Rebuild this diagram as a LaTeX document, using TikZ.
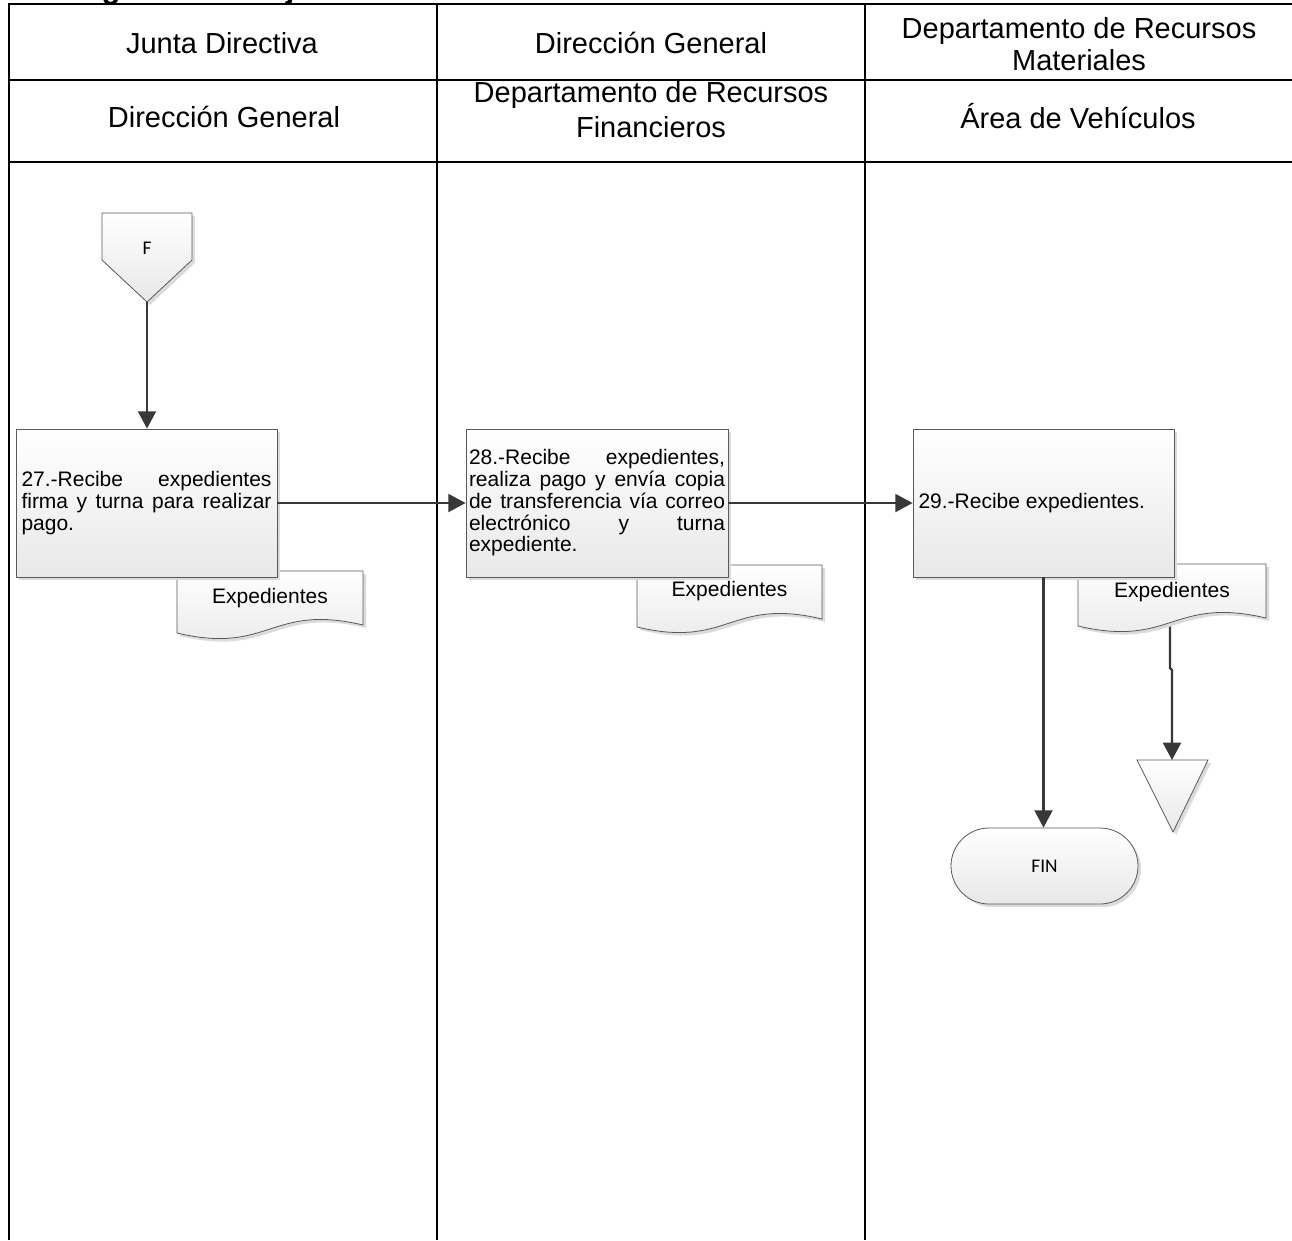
\documentclass[tikz,border=0pt]{standalone}
\usepackage{fontspec}
\setmainfont{Liberation Sans}
\newfontfamily\carlito{Carlito}
\usetikzlibrary{arrows.meta,shadows}

\tikzset{
  frame/.style={line width=1.5pt, draw=black},
  hdr/.style={anchor=base, inner sep=0pt, font=\fontsize{21.75}{26}\selectfont},
  shp/.style={draw=black!65, line width=0.6pt, top color=white, bottom color=black!9,
    drop shadow={shadow xshift=2.25pt, shadow yshift=-2.25pt, fill=black!14, opacity=1}},
  act/.style={shp, rectangle, minimum height=111pt, align=justify, inner ysep=0pt,
    font=\fontsize{15.75}{16.3}\selectfont,
    execute at begin node={\tolerance=10000\relax\hyphenpenalty=10000\relax}},
  doclabel/.style={inner sep=0pt, font=\fontsize{15.75}{16.3}\selectfont},
  small/.style={inner sep=0pt, font=\carlito\fontsize{14.5}{16}\selectfont},
  flow/.style={draw=black!78, line width=1.6pt, -{Triangle[length=13pt,width=13.5pt]}},
}

% document symbol: left x, top y, width
\newcommand\docsymbol[3]{%
  \path[shp] (#1,#2) -- ({#1+#3},#2) -- ({#1+#3},{#2+54})
    .. controls ({#1+0.5*#3},{#2+32}) and ({#1+0.5*#3},{#2+84}) .. (#1,{#2+62}) -- cycle;}

\begin{document}
\begin{tikzpicture}[x=0.75pt, y=-0.75pt]
\useasboundingbox (0,0) rectangle (1292,1240);

% title strip
\begin{scope}
  \clip (0,0) rectangle (1292,4);
  \node[anchor=base west, inner sep=0pt, font=\bfseries\fontsize{23.25}{26}\selectfont] (title) at (53,-2) {Diagrama de flujo};
\end{scope}

% lanes
\draw[frame] (9,1240) -- (9,4) -- (1292,4);
\draw[frame] (9,80) -- (1292,80);
\draw[frame] (9,162) -- (1292,162);
\draw[frame] (437,4) -- (437,1240);
\draw[frame] (865,4) -- (865,1240);

% lane headers
\node[hdr] (h11) at (222,53) {Junta Directiva};
\node[hdr] (h12) at (651,53) {Dirección General};
\node[hdr] (h13a) at (1079,38) {Departamento de Recursos};
\node[hdr] (h13b) at (1079,70) {Materiales};
\node[hdr] (h21) at (224,127) {Dirección General};
\node[hdr] (h22a) at (651,102) {Departamento de Recursos};
\node[hdr] (h22b) at (651,137) {Financieros};
\node[hdr] (h23) at (1078,128) {Área de Vehículos};

% off-page connector F
\path[shp] (102,213) -- (192,213) -- (192,260) -- (147,302) -- (102,260) -- cycle;
\node[small] (F) at (147,248) {F};
\coordinate (Ftip) at (147,302);

% documents
\docsymbol{177}{571}{186}
\node[doclabel] (doc1) at (270,598) {Expedientes};
\docsymbol{637}{565}{185}
\node[doclabel] (doc2) at (729.5,591) {Expedientes};

% connector from the third document to the merge symbol
\coordinate (d3b) at (1170,625);
\path[shp] (1137,760) -- (1208,760) -- (1173,832) -- cycle;
\coordinate (mrg) at (1172,760);
\draw[flow] (d3b) -- ++(0,43) -- ++(2,2) -- (mrg);
\docsymbol{1078}{564}{188}
\node[doclabel] (doc3) at (1172,592) {Expedientes};

% activities
\node[act, text width=187.5pt, inner xsep=4.125pt] (b27) at (146.5,503)
  {27.-Recibe expedientes\linebreak firma y turna para realizar\linebreak pago.};
\node[act, text width=192pt, inner xsep=2.25pt] (b28) at (597,503)
  {28.-Recibe expedientes,\linebreak realiza pago y envía copia\linebreak de transferencia vía correo\linebreak electrónico y turna\linebreak expediente.};
\node[act, text width=187.5pt, inner xsep=4.125pt] (b29) at (1043.5,503)
  {29.-Recibe expedientes.};

% terminator
\node[shp, rectangle, rounded corners=28.5pt, minimum width=140.25pt, minimum height=57pt, small] (fin) at (1044.5,866) {FIN};

% flow
\draw[flow] (Ftip) -- (Ftip |- b27.north);
\draw[flow] (b27.east) -- (b28.west);
\draw[flow] (b28.east) -- (b29.west);
\draw[flow] (b29.south) -- (b29.south |- fin.north);
\end{tikzpicture}
\end{document}
